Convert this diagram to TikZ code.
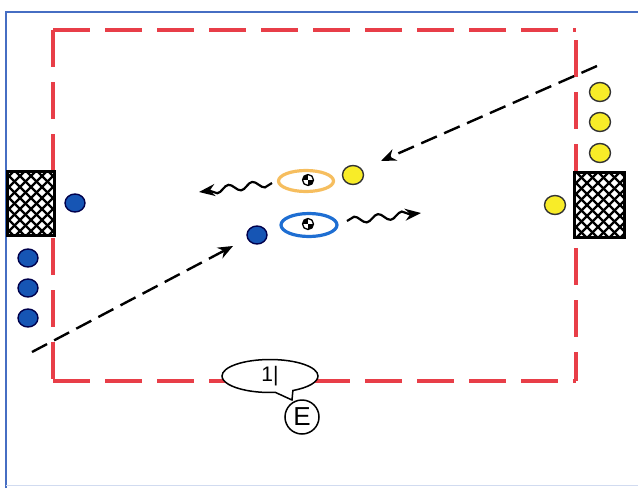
\documentclass[tikz,border=0pt]{standalone}
\usepackage{fontspec}
\setmainfont{Liberation Sans}
\usetikzlibrary{arrows.meta,decorations.pathmorphing,shapes.geometric,shapes.callouts}
\definecolor{fieldred}{RGB}{232,62,72}
\definecolor{frameblue}{RGB}{70,110,195}
\definecolor{pblue}{RGB}{22,85,180}
\definecolor{pyellow}{RGB}{248,236,40}
\definecolor{ringorange}{RGB}{246,190,95}
\definecolor{ringblue}{RGB}{30,110,210}
\tikzset{
  redline/.style={draw=fieldred, line width=4pt, dash pattern=on 37pt off 15pt},
  bluep/.style={ellipse, draw=black!70!blue, line width=1.4pt, fill=pblue, minimum width=20pt, minimum height=18pt, inner sep=0pt},
  yellowp/.style={ellipse, draw=black!80, line width=1.4pt, fill=pyellow, minimum width=21pt, minimum height=19pt, inner sep=0pt},
  goalbox/.style={rectangle, draw=black, line width=1.5pt, fill=white, inner sep=0pt},
  hatch/.style={black, line width=2.2pt},
  ring/.style={ellipse, line width=3.2pt, fill=white, inner sep=0pt},
  ball/.style={circle, draw=black, line width=1.3pt, fill=white, minimum size=11pt, inner sep=0pt, path picture={\fill[black] (path picture bounding box.north west) rectangle (path picture bounding box.center);\fill[black] (path picture bounding box.south east) rectangle (path picture bounding box.center);}},
  runarrow/.style={black, line width=2.4pt, dash pattern=on 17pt off 8pt, -{Stealth[length=15pt,width=12pt]}},
  dribble/.style={black, line width=2.2pt, decorate, decoration={snake, amplitude=3.5pt, segment length=24pt, post length=10pt}, -{Stealth[length=16pt,width=12pt]}},
}
\begin{document}
\begin{tikzpicture}[x=1pt,y=-1pt]
\useasboundingbox (0,0) rectangle (638,488);
% outer frame
\draw[frameblue, line width=1.6pt] (6,488) -- (6,12) -- (638,12);
\draw[frameblue!25, line width=1pt] (6,485) -- (638,485);
% field
\coordinate (c1) at (53,30);
\coordinate (c2) at (576,30);
\coordinate (c3) at (576,381);
\coordinate (c4) at (53,381);
\draw[redline] (c1) -- (c2);
\draw[redline] (c2) ++(0,10) -- (c3);
\draw[redline] (c1) -- (c4);
\draw[redline] (c4) -- (c3);
% goals
\node[goalbox, minimum width=46pt, minimum height=63pt] (goalL) at (31,203.5) {};
\begin{scope}
\clip (goalL.south west) rectangle (goalL.north east);
\foreach \i in {-72,-61,...,60} {
  \draw[hatch] (\i,172) -- ++(70,70);
  \draw[hatch] (\i,235) -- ++(70,-70);
}
\end{scope}
\draw[black, line width=1.8pt] (goalL.south west) rectangle (goalL.north east);
\node[goalbox, minimum width=49pt, minimum height=64pt] (goalR) at (599.5,205) {};
\begin{scope}
\clip (goalR.south west) rectangle (goalR.north east);
\foreach \i in {500,511,...,630} {
  \draw[hatch] (\i,173) -- ++(70,70);
  \draw[hatch] (\i,237) -- ++(70,-70);
}
\end{scope}
\draw[black, line width=1.8pt] (goalR.south west) rectangle (goalR.north east);
% blue players
\node[bluep] (b1) at (75,203) {};
\node[bluep] (b2) at (28,258) {};
\node[bluep] (b3) at (28,288) {};
\node[bluep] (b4) at (28,318) {};
\node[bluep] (b5) at (257,235) {};
% yellow players
\node[yellowp] (y1) at (600,92) {};
\node[yellowp] (y2) at (600,122) {};
\node[yellowp] (y3) at (600,153) {};
\node[yellowp] (y4) at (555,205) {};
\node[yellowp] (y5) at (353,175) {};
% rings with balls
\node[ring, draw=ringorange, minimum width=55pt, minimum height=21pt] (ro) at (306,181) {};
\node[ball] (balla) at (308,180) {};
\node[ring, draw=ringblue, minimum width=56pt, minimum height=23pt] (rb) at (309,225) {};
\node[ball] (ballb) at (308,224) {};
% dribbles
\coordinate (d1s) at (272,183);
\coordinate (d1e) at (199,192);
\coordinate (d2s) at (347,221);
\coordinate (d2e) at (421,213);
\draw[dribble] (d1s) -- (d1e);
\draw[dribble] (d2s) -- (d2e);
% runs
\coordinate (r1s) at (597,66);
\coordinate (r1e) at (381,161);
\coordinate (r2s) at (32,352);
\coordinate (r2e) at (233,246);
\draw[runarrow] (r1s) -- (r1e);
\draw[runarrow] (r2s) -- (r2e);
% coach
\node[circle, draw=black, line width=1.5pt, fill=white, minimum size=34pt, inner sep=0pt, font=\fontsize{26}{26}\selectfont] (coach) at (302,417) {E};
\node[ellipse callout, draw=black, line width=1.5pt, fill=white, minimum width=96pt, minimum height=33pt, inner sep=0pt,
  callout absolute pointer={(292,400)}, callout pointer arc=22, font=\fontsize{21}{21}\selectfont] (bubble) at (270,376) {1|};
\end{tikzpicture}
\end{document}
